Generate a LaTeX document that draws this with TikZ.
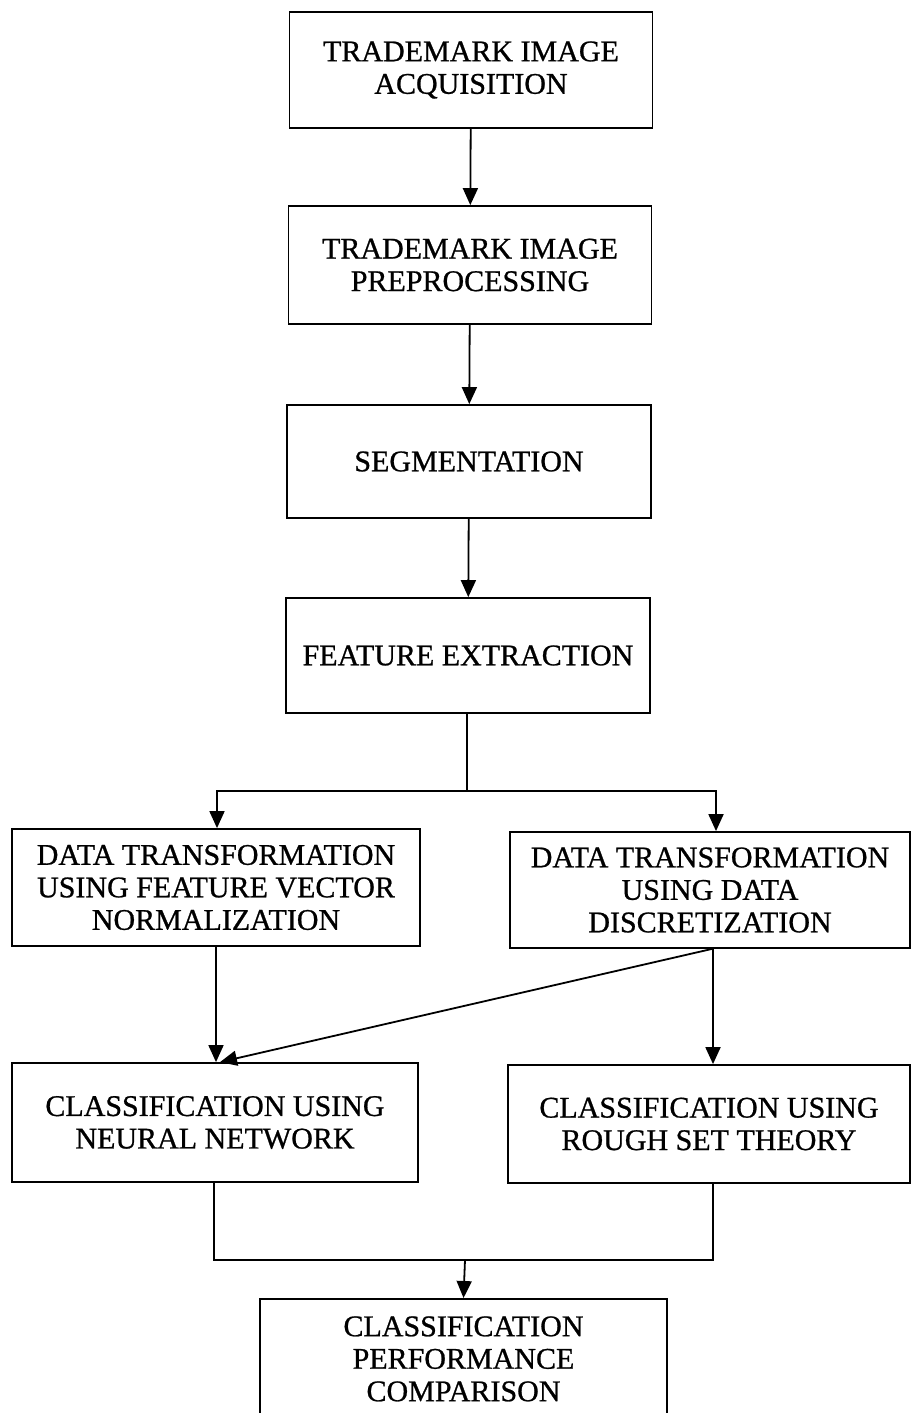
\documentclass[tikz,border=0pt]{standalone}
\usepackage{fontspec}
\newfontfamily\boxfont{Liberation Serif}[UprightFeatures={FakeBold=0.8}]
\usetikzlibrary{arrows.meta}
\begin{document}
\begin{tikzpicture}[x=1pt,y=-1pt,
  flowbox/.style={draw=black, line width=1.8pt, rectangle, align=center,
    inner sep=0pt, font=\boxfont\fontsize{30}{32.5}\selectfont},
  arr/.style={line width=1.8pt, -{Triangle[length=17pt,width=15pt]}},
  link/.style={line width=1.8pt}]
\useasboundingbox (0,0) rectangle (911,1413);
\fill[white] (0,0) rectangle (911,1413);

\node[flowbox, minimum width=363pt, minimum height=116pt] (b1) at (471,70) {TRADEMARK IMAGE\\ACQUISITION};
\node[flowbox, minimum width=363pt, minimum height=118pt] (b2) at (470,265) {TRADEMARK IMAGE\\PREPROCESSING};
\node[flowbox, minimum width=364pt, minimum height=113pt] (b3) at (469,461.5) {SEGMENTATION};
\node[flowbox, minimum width=364pt, minimum height=115pt] (b4) at (468,655.5) {FEATURE EXTRACTION};
\node[flowbox, minimum width=408pt, minimum height=117pt] (b5) at (216,887.5) {DATA TRANSFORMATION\\USING FEATURE VECTOR\\NORMALIZATION};
\node[flowbox, minimum width=400pt, minimum height=116pt] (b6) at (710,890) {DATA TRANSFORMATION\\USING DATA\\DISCRETIZATION};
\node[flowbox, minimum width=406pt, minimum height=119pt] (b7) at (215,1122.5) {CLASSIFICATION USING\\NEURAL NETWORK};
\node[flowbox, minimum width=402pt, minimum height=118pt] (b8) at (709,1124) {CLASSIFICATION USING\\ROUGH SET THEORY};
\node[flowbox, minimum width=407pt, minimum height=120pt, anchor=north] (b9) at (463.5,1298) {CLASSIFICATION\\PERFORMANCE\\COMPARISON};

\draw[arr] (b1) -- (b2);
\draw[arr] (b2) -- (b3);
\draw[arr] (b3) -- (b4);

\coordinate (j1) at (467,791);
\draw[link] ([xshift=-1pt]b4.south) -- (j1);
\draw[arr] (j1) -| ([xshift=1pt]b5.north);
\draw[arr] (j1) -| ([xshift=6pt]b6.north);

\draw[arr] (b5.south) -- ([xshift=1pt]b7.north);
\draw[arr] ([xshift=2pt]b6.south) -- ([xshift=5pt]b7.north);
\draw[arr] ([xshift=3pt]b6.south) -- ([xshift=4pt]b8.north);

\coordinate (j2) at (465,1260);
\draw[link] ([xshift=-1pt]b7.south) |- (j2) -| ([xshift=4pt]b8.south);
\draw[arr] (j2) -- (b9.north);
\end{tikzpicture}
\end{document}
